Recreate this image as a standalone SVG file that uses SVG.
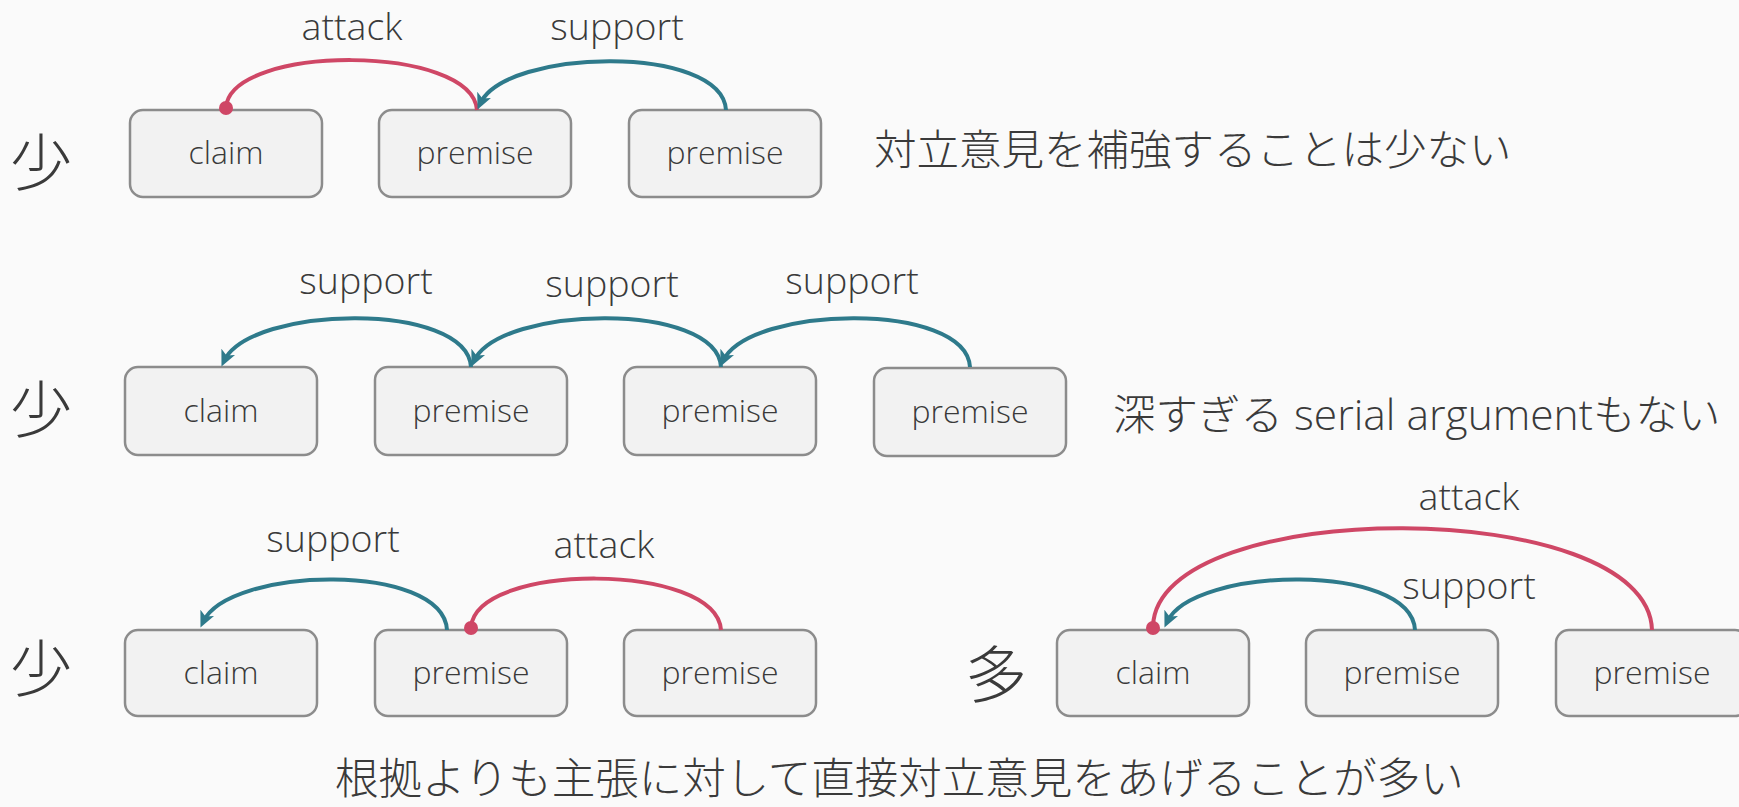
<svg xmlns="http://www.w3.org/2000/svg" width="1739" height="807" viewBox="0 0 1739 807">
<style>
.bg{fill:#fafafa}
.box{fill:#f2f2f2;stroke:#8c8c8c;stroke-width:2.5}
.bt{font-family:"Open Sans","Noto Sans CJK JP",sans-serif;font-weight:300;font-size:32px;fill:#3a3a3a;text-anchor:middle}
.lb{font-family:"Open Sans","Noto Sans CJK JP",sans-serif;font-weight:300;font-size:37.5px;fill:#3a3a3a;text-anchor:middle}
.jp{font-family:"Open Sans","Noto Sans CJK JP",sans-serif;font-weight:300;font-size:42.5px;fill:#3a3a3a}
.big{font-family:"Noto Sans CJK JP",sans-serif;font-weight:300;font-size:62px;fill:#3a3a3a}
.sup{fill:none;stroke:#2e7a8b;stroke-width:4}
.att{fill:none;stroke:#cf4766;stroke-width:4}
.dot{fill:#cf4766}
</style>
<defs>
<marker id="arr" markerUnits="userSpaceOnUse" markerWidth="20" markerHeight="20" viewBox="0 0 20 20" refX="10" refY="10" orient="auto">
<path d="M0,2.5 L16,10 L0,17.5 L4,10 Z" fill="#2e7a8b"/>
</marker>
</defs>
<rect class="bg" x="0" y="0" width="1739" height="807"/>

<g id="labels-quantity">
<text class="big" x="10" y="186">少</text>
<text class="big" x="10" y="433">少</text>
<text class="big" x="10" y="692">少</text>
<text class="big" x="965" y="698">多</text>
</g>

<g id="row1-claim"><rect class="box" x="130" y="110" width="192" height="87" rx="13"/><text class="bt" x="226" y="164">claim</text></g>
<g id="row1-premise1"><rect class="box" x="379" y="110" width="192" height="87" rx="13"/><text class="bt" x="475" y="164">premise</text></g>
<g id="row1-premise2"><rect class="box" x="629" y="110" width="192" height="87" rx="13"/><text class="bt" x="725" y="164">premise</text></g>

<g id="row2-claim"><rect class="box" x="125" y="367" width="192" height="88" rx="13"/><text class="bt" x="221" y="422">claim</text></g>
<g id="row2-premise1"><rect class="box" x="375" y="367" width="192" height="88" rx="13"/><text class="bt" x="471" y="422">premise</text></g>
<g id="row2-premise2"><rect class="box" x="624" y="367" width="192" height="88" rx="13"/><text class="bt" x="720" y="422">premise</text></g>
<g id="row2-premise3"><rect class="box" x="874" y="368" width="192" height="88" rx="13"/><text class="bt" x="970" y="423">premise</text></g>

<g id="row3-claim"><rect class="box" x="125" y="630" width="192" height="86" rx="13"/><text class="bt" x="221" y="684">claim</text></g>
<g id="row3-premise1"><rect class="box" x="375" y="630" width="192" height="86" rx="13"/><text class="bt" x="471" y="684">premise</text></g>
<g id="row3-premise2"><rect class="box" x="624" y="630" width="192" height="86" rx="13"/><text class="bt" x="720" y="684">premise</text></g>

<g id="row4-claim"><rect class="box" x="1057" y="630" width="192" height="86" rx="13"/><text class="bt" x="1153" y="684">claim</text></g>
<g id="row4-premise1"><rect class="box" x="1306" y="630" width="192" height="86" rx="13"/><text class="bt" x="1402" y="684">premise</text></g>
<g id="row4-premise2"><rect class="box" x="1556" y="630" width="192" height="86" rx="13"/><text class="bt" x="1652" y="684">premise</text></g>

<g id="connectors">
<path class="att" d="M477,110 C472,44 232,44 226,107"/>
<circle class="dot" cx="226" cy="108" r="7"/>
<path class="sup" d="M726,110 C722,44 505,48 480,104" marker-end="url(#arr)"/>

<path class="sup" d="M471,367 C467,301 250,305 224,361" marker-end="url(#arr)"/>
<path class="sup" d="M721,367 C717,301 500,305 474,361" marker-end="url(#arr)"/>
<path class="sup" d="M970,367 C966,301 749,305 723,361" marker-end="url(#arr)"/>

<path class="sup" d="M447,630 C443,562 229,566 203,622" marker-end="url(#arr)"/>
<path class="att" d="M721,630 C716,562 477,562 471,627"/>
<circle class="dot" cx="471" cy="628" r="7"/>

<path class="att" d="M1652,630 C1648,495 1158,495 1153,626"/>
<circle class="dot" cx="1153" cy="628" r="7"/>
<path class="sup" d="M1415,630 C1411,562 1193,566 1167,622" marker-end="url(#arr)"/>
</g>

<g id="edge-labels">
<text class="lb" x="352" y="40">attack</text>
<text class="lb" x="617" y="40">support</text>
<text class="lb" x="366" y="294">support</text>
<text class="lb" x="612" y="297">support</text>
<text class="lb" x="852" y="294">support</text>
<text class="lb" x="333" y="552">support</text>
<text class="lb" x="604" y="558">attack</text>
<text class="lb" x="1469" y="510">attack</text>
<text class="lb" x="1469" y="599">support</text>
</g>

<g id="notes">
<text class="jp" x="874" y="165">対立意見を補強することは少ない</text>
<text class="jp" x="1113" y="430">深すぎる serial argumentもない</text>
<text class="jp" x="335" y="794" style="font-size:43.5px">根拠よりも主張に対して直接対立意見をあげることが多い</text>
</g>
</svg>
